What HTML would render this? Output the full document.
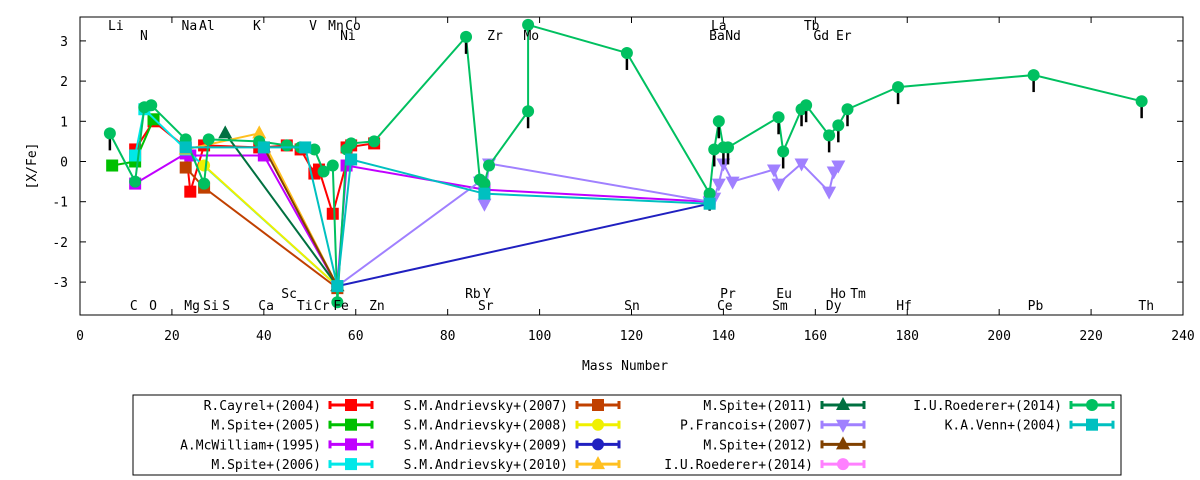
<!DOCTYPE html>
<html><head><meta charset="utf-8"><style>
html,body{margin:0;padding:0;background:#fff;}
svg{display:block;font-family:"DejaVu Sans Mono","Liberation Mono",monospace;font-size:13px;}
</style></head><body>
<svg id="chart" width="1200" height="480" viewBox="0 0 1200 480" xmlns="http://www.w3.org/2000/svg">
<rect x="80" y="17" width="1103" height="298" fill="none" stroke="#000" stroke-width="1"/>
<g id="grid"></g>
<g id="series"></g>
<g id="labels"></g>
<text x="625" y="370" text-anchor="middle">Mass Number</text>
<text x="36" y="166" text-anchor="middle" transform="rotate(-90 36 166)">[X/Fe]</text>
<rect x="133" y="395" width="988" height="80" fill="none" stroke="#000"/>
<g id="legend"></g>
</svg>
<script>
const xTicks=[0,20,40,60,80,100,120,140,160,180,200,220,240];
const yTicks=[-3,-2,-1,0,1,2,3];
const elemTop1=[["Li",7.8],["Na",23.8],["Al",27.6],["K",38.5],["V",50.7],["Mn",55.7],["Co",59.4],["La",139],["Tb",159.2]];
const elemTop2=[["N",13.9],["Ni",58.3],["Zr",90.3],["Mo",98.2],["Ba",138.6],["Nd",142.1],["Gd",161.3],["Er",166.2]];
const elemBot1=[["Sc",45.5],["Rb",85.5],["Y",88.5],["Pr",141],["Eu",153.2],["Ho",165],["Tm",169.3]];
const elemBot2=[["C",11.7],["O",15.9],["Mg",24.4],["Si",28.5],["S",31.8],["Ca",40.5],["Ti",48.9],["Cr",52.6],["Fe",56.8],["Zn",64.6],["Sr",88.3],["Sn",120.1],["Ce",140.3],["Sm",152.3],["Dy",164],["Hf",179.3],["Pb",207.9],["Th",232]];

const names=["R.Cayrel+(2004)","M.Spite+(2005)","A.McWilliam+(1995)","M.Spite+(2006)","S.M.Andrievsky+(2007)","S.M.Andrievsky+(2008)","S.M.Andrievsky+(2009)","S.M.Andrievsky+(2010)","M.Spite+(2011)","P.Francois+(2007)","M.Spite+(2012)","I.U.Roederer+(2014)","I.U.Roederer+(2014)","K.A.Venn+(2004)"];
const colors=["#ff0000","#00c000","#c000ff","#00e8e8","#c04000","#f0f000","#2020c0","#ffc020","#007040","#a080ff","#804000","#ff80ff","#00c060","#00c0c0"];
const markers=["bar","bar","sq","sq","sq","ci","ci","tri","tri","itri","tri","ci","ci","sq"];

const sCayrelM=[12,16,23,24,27,39,40,45,48,51,52,55,59,58,64];
const sCayrelV=[0.3,1.0,0.35,-0.75,0.4,0.35,0.35,0.4,0.3,-0.3,-0.2,-1.3,0.4,0.35,0.45];
const sSpite05M=[7,12,16];
const sSpite05V=[-0.1,0.0,1.05];
const sMcwM=[12,23,24,40,56,58,88,137];
const sMcwV=[-0.55,0.2,0.15,0.15,-3.1,-0.1,-0.7,-1.0];
const sSpite06M=[12,14,23,56];
const sSpite06V=[0.15,1.3,0.3,-3.1];
const sA07M=[23,27,56];
const sA07V=[-0.15,-0.65,-3.15];
const sA08M=[27,56];
const sA08V=[-0.1,-3.1];
const sA09M=[56,137];
const sA09V=[-3.1,-1.05];
const sA10M=[23,39,56];
const sA10V=[0.3,0.7,-3.1];
const sS11M=[31.6,56];
const sS11V=[0.7,-3.1];
const sFrM=[56,87,88,89,137,138,139,140,142,151,152,157,163,164,165];
const sFrV=[-3.1,-0.5,-1.05,-0.05,-1.0,-0.9,-0.55,-0.05,-0.5,-0.2,-0.55,-0.05,-0.75,-0.25,-0.1];
const sS12M=[40,56];
const sS12V=[0.35,-3.1];
const sRpM=[];
const sRpV=[];
const sRoM=[6.5,12,14,15.5,23,27,28,39,45,48,51,53,55,56,58,59,64,84,87,88,89,97.5,97.5,119,137,138,139,140,141,152,153,157,158,163,165,167,178,207.5,231];
const sRoV=[0.7,-0.5,1.35,1.4,0.55,-0.55,0.55,0.5,0.4,0.35,0.3,-0.25,-0.1,-3.5,0.3,0.45,0.5,3.1,-0.45,-0.55,-0.1,1.25,3.4,2.7,-0.8,0.3,1.0,0.35,0.35,1.1,0.25,1.3,1.4,0.65,0.9,1.3,1.85,2.15,1.5];
const sRoUL=[1,0,0,0,0,0,0,0,0,0,0,0,0,0,0,0,0,1,0,0,0,1,0,1,1,1,1,1,1,1,1,1,1,1,1,1,1,1,1];
const sVennM=[23,40,49,56,59,88,137];
const sVennV=[0.35,0.35,0.35,-3.1,0.05,-0.8,-1.05];
const seriesM=[sCayrelM,sSpite05M,sMcwM,sSpite06M,sA07M,sA08M,sA09M,sA10M,sS11M,sFrM,sS12M,sRpM,sRoM,sVennM];
const seriesV=[sCayrelV,sSpite05V,sMcwV,sSpite06V,sA07V,sA08V,sA09V,sA10V,sS11V,sFrV,sS12V,sRpV,sRoV,sVennV];

const NS="http://www.w3.org/2000/svg";
const X=m=>80+m*(1103/240);
const Y=v=>161.5-v*40.2;
function mk(tag,attrs,parent){const e=document.createElementNS(NS,tag);for(const k in attrs)e.setAttribute(k,attrs[k]);parent.appendChild(e);return e;}
const grid=document.getElementById('grid'),ser=document.getElementById('series'),lab=document.getElementById('labels'),leg=document.getElementById('legend');

xTicks.forEach(t=>{
  const x=X(t);
  const l1=mk('line',{x1:x,x2:x,y1:315,y2:309,stroke:'#000'},grid);
  
  
  const l2=mk('line',{x1:x,x2:x,y1:17,y2:23,stroke:'#000'},grid);
  
  
  const tx=mk('text',{x:x,y:340,'text-anchor':'middle'},grid);tx.textContent=t;
  
  
});
yTicks.forEach(t=>{
  const y=Y(t);
  const l1=mk('line',{x1:80,x2:86,y1:y,y2:y,stroke:'#000'},grid);
  
  
  const l2=mk('line',{x1:1183,x2:1177,y1:y,y2:y,stroke:'#000'},grid);
  
  
  const tx=mk('text',{x:68,y:y+5,'text-anchor':'end'},grid);tx.textContent=t;
  
  
});
[[elemTop1,30],[elemTop2,40],[elemBot1,298],[elemBot2,310]].forEach(([arr,y])=>{
  arr.forEach(([n,m])=>{
    const t=mk('text',{x:X(m),y:y,'text-anchor':'middle'},lab);t.textContent=n;
    
    
  });
});
function marker(kind,x,y,c,parent){
  let e;
  if(kind==='sq'||kind==='bar') e=mk('rect',{x:x-6,y:y-6,width:12,height:12,fill:c},parent);
  else if(kind==='ci') e=mk('circle',{cx:x,cy:y,r:6,fill:c},parent);
  else if(kind==='tri') e=mk('polygon',{points:`${x},${y-8} ${x-7},${y+5} ${x+7},${y+5}`,fill:c},parent);
  else e=mk('polygon',{points:`${x},${y+8} ${x-7},${y-5} ${x+7},${y-5}`,fill:c},parent);
  
  
}
seriesM.forEach((ms,i)=>{
  const vs=seriesV[i];if(!ms.length)return;
  const g=mk('g',{},ser);
  
  
  const pts=ms.map((m,j)=>X(m)+','+Y(vs[j])).join(' ');
  const pl=mk('polyline',{points:pts,fill:'none',stroke:colors[i],'stroke-width':2},g);
  
  
  ms.forEach((m,j)=>{
    if(i===12&&sRoUL[j]){
      const a=mk('line',{x1:X(m),x2:X(m),y1:Y(vs[j]),y2:Y(vs[j])+17,stroke:'#000','stroke-width':2.5},g);
      
      
    }
    marker(markers[i],X(m),Y(vs[j]),colors[i],g);
  });
});
const colLabelEnd=[321,568,813,1062];
names.forEach((n,i)=>{
  const col=Math.floor(i/4),row=i%4;
  const y=405+row*19.7,xe=colLabelEnd[col];
  const g=mk('g',{},leg);
  
  
  const t=mk('text',{x:xe,y:y+5,'text-anchor':'end'},g);t.textContent=n;
  mk('line',{x1:xe+9,x2:xe+51,y1:y,y2:y,stroke:colors[i],'stroke-width':3},g);
  mk('line',{x1:xe+9,x2:xe+9,y1:y-4,y2:y+4,stroke:colors[i],'stroke-width':3},g);
  mk('line',{x1:xe+51,x2:xe+51,y1:y-4,y2:y+4,stroke:colors[i],'stroke-width':3},g);
  marker(markers[i]==='bar'?'sq':markers[i],xe+30,y,colors[i],g);
});
</script>
</body></html>
